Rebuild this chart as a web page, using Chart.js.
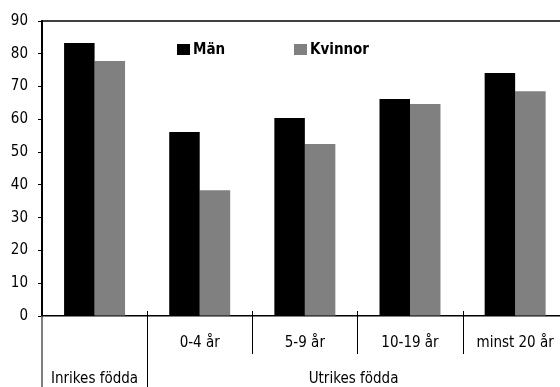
<!DOCTYPE html>
<html>
<head>
<meta charset="utf-8">
<script src="https://cdn.jsdelivr.net/npm/chart.js@4"></script>
<style>
  html, body { margin: 0; padding: 0; background: #fff; overflow: hidden; }
  #wrap { width: 572px; height: 387px; }
</style>
</head>
<body>
<div id="wrap"><canvas id="myChart" width="572" height="387"></canvas></div>
<script>
// Data
const tickLabels = ['', '0-4 år', '5-9 år', '10-19 år', 'minst 20 år'];
const groupLabels = ['Inrikes födda', 'Utrikes födda'];
const groupSpans = [[0, 0], [1, 4]];
const men = [83.3, 56.1, 60.4, 66.2, 74.1];
const women = [77.8, 38.4, 52.5, 64.7, 68.6];
const yTicks = [0, 10, 20, 30, 40, 50, 60, 70, 80, 90];

const FONT = "'Liberation Sans Narrow', 'DejaVu Sans Condensed', 'Arial Narrow', sans-serif";

// Draws the frame, the group dividers, the second label row and the legend
const extras = {
    id: 'extras',
    afterDraw(chart) {
        const ctx = chart.ctx;
        const area = chart.chartArea;
        const x = chart.scales.x;
        const step = x.getPixelForValue(1) - x.getPixelForValue(0);
        const edge = i => x.getPixelForValue(i) - step / 2;

        ctx.save();
        // top frame line
        ctx.strokeStyle = '#000';
        ctx.lineWidth = 1.5;
        ctx.beginPath();
        ctx.moveTo(area.left, area.top);
        ctx.lineTo(area.right, area.top);
        ctx.stroke();

        // left axis continued downward
        ctx.strokeStyle = '#555';
        ctx.lineWidth = 1.5;
        ctx.beginPath();
        ctx.moveTo(area.left, area.bottom);
        ctx.lineTo(area.left, chart.height);
        ctx.stroke();

        // dividers between categories
        ctx.strokeStyle = '#000';
        ctx.lineWidth = 1;
        for (let i = 1; i < tickLabels.length; i++) {
            const px = Math.round(edge(i)) + 0.5;
            const groupEdge = groupSpans.some(s => s[0] === i);
            ctx.beginPath();
            ctx.moveTo(px, area.bottom - 5);
            ctx.lineTo(px, groupEdge ? chart.height : area.bottom + 38);
            ctx.stroke();
        }

        // second row of labels
        ctx.fillStyle = '#000';
        ctx.font = '15px ' + FONT;
        ctx.textAlign = 'center';
        ctx.textBaseline = 'middle';
        groupSpans.forEach((s, gi) => {
            const l = edge(s[0]);
            const r = Math.min(edge(s[1] + 1), 560);
            ctx.fillText(groupLabels[gi], (l + r) / 2, 379);
        });

        // legend
        ctx.font = 'bold 15px ' + FONT;
        ctx.textAlign = 'left';
        const legendX = [177, 294];
        chart.data.datasets.forEach((ds, i) => {
            ctx.fillStyle = ds.backgroundColor;
            ctx.fillRect(legendX[i], 44, 13, 11);
            ctx.fillStyle = '#000';
            ctx.fillText(ds.label, legendX[i] + 16, 50);
        });
        ctx.restore();
    }
};

new Chart(document.getElementById('myChart').getContext('2d'), {
    type: 'bar',
    data: {
        labels: tickLabels,
        datasets: [
            { label: 'Män', data: men, backgroundColor: '#000000' },
            { label: 'Kvinnor', data: women, backgroundColor: '#808080' }
        ]
    },
    options: {
        responsive: false,
        animation: false,
        devicePixelRatio: 1,
        layout: { padding: { top: 21, right: 2, bottom: 0, left: 0 } },
        plugins: { legend: { display: false }, tooltip: { enabled: false } },
        datasets: { bar: { categoryPercentage: 0.58, barPercentage: 1.0 } },
        scales: {
            x: {
                grid: { display: false, drawTicks: false },
                border: { display: true, color: '#000', width: 1.5 },
                ticks: { color: '#000', font: { family: FONT, size: 15 }, padding: 18, maxRotation: 0, autoSkip: false },
                afterFit: s => { s.height = 71; }
            },
            y: {
                min: 0,
                max: 90,
                afterBuildTicks: s => { s.ticks = yTicks.map(v => ({ value: v })); },
                grid: { drawOnChartArea: false, drawTicks: true, tickLength: 4, color: '#000' },
                border: { display: true, color: '#000', width: 2 },
                ticks: { color: '#000', font: { family: FONT, size: 15 }, padding: 10 },
                afterFit: s => { s.width = 42; }
            }
        }
    },
    plugins: [extras]
});
</script>
</body>
</html>
